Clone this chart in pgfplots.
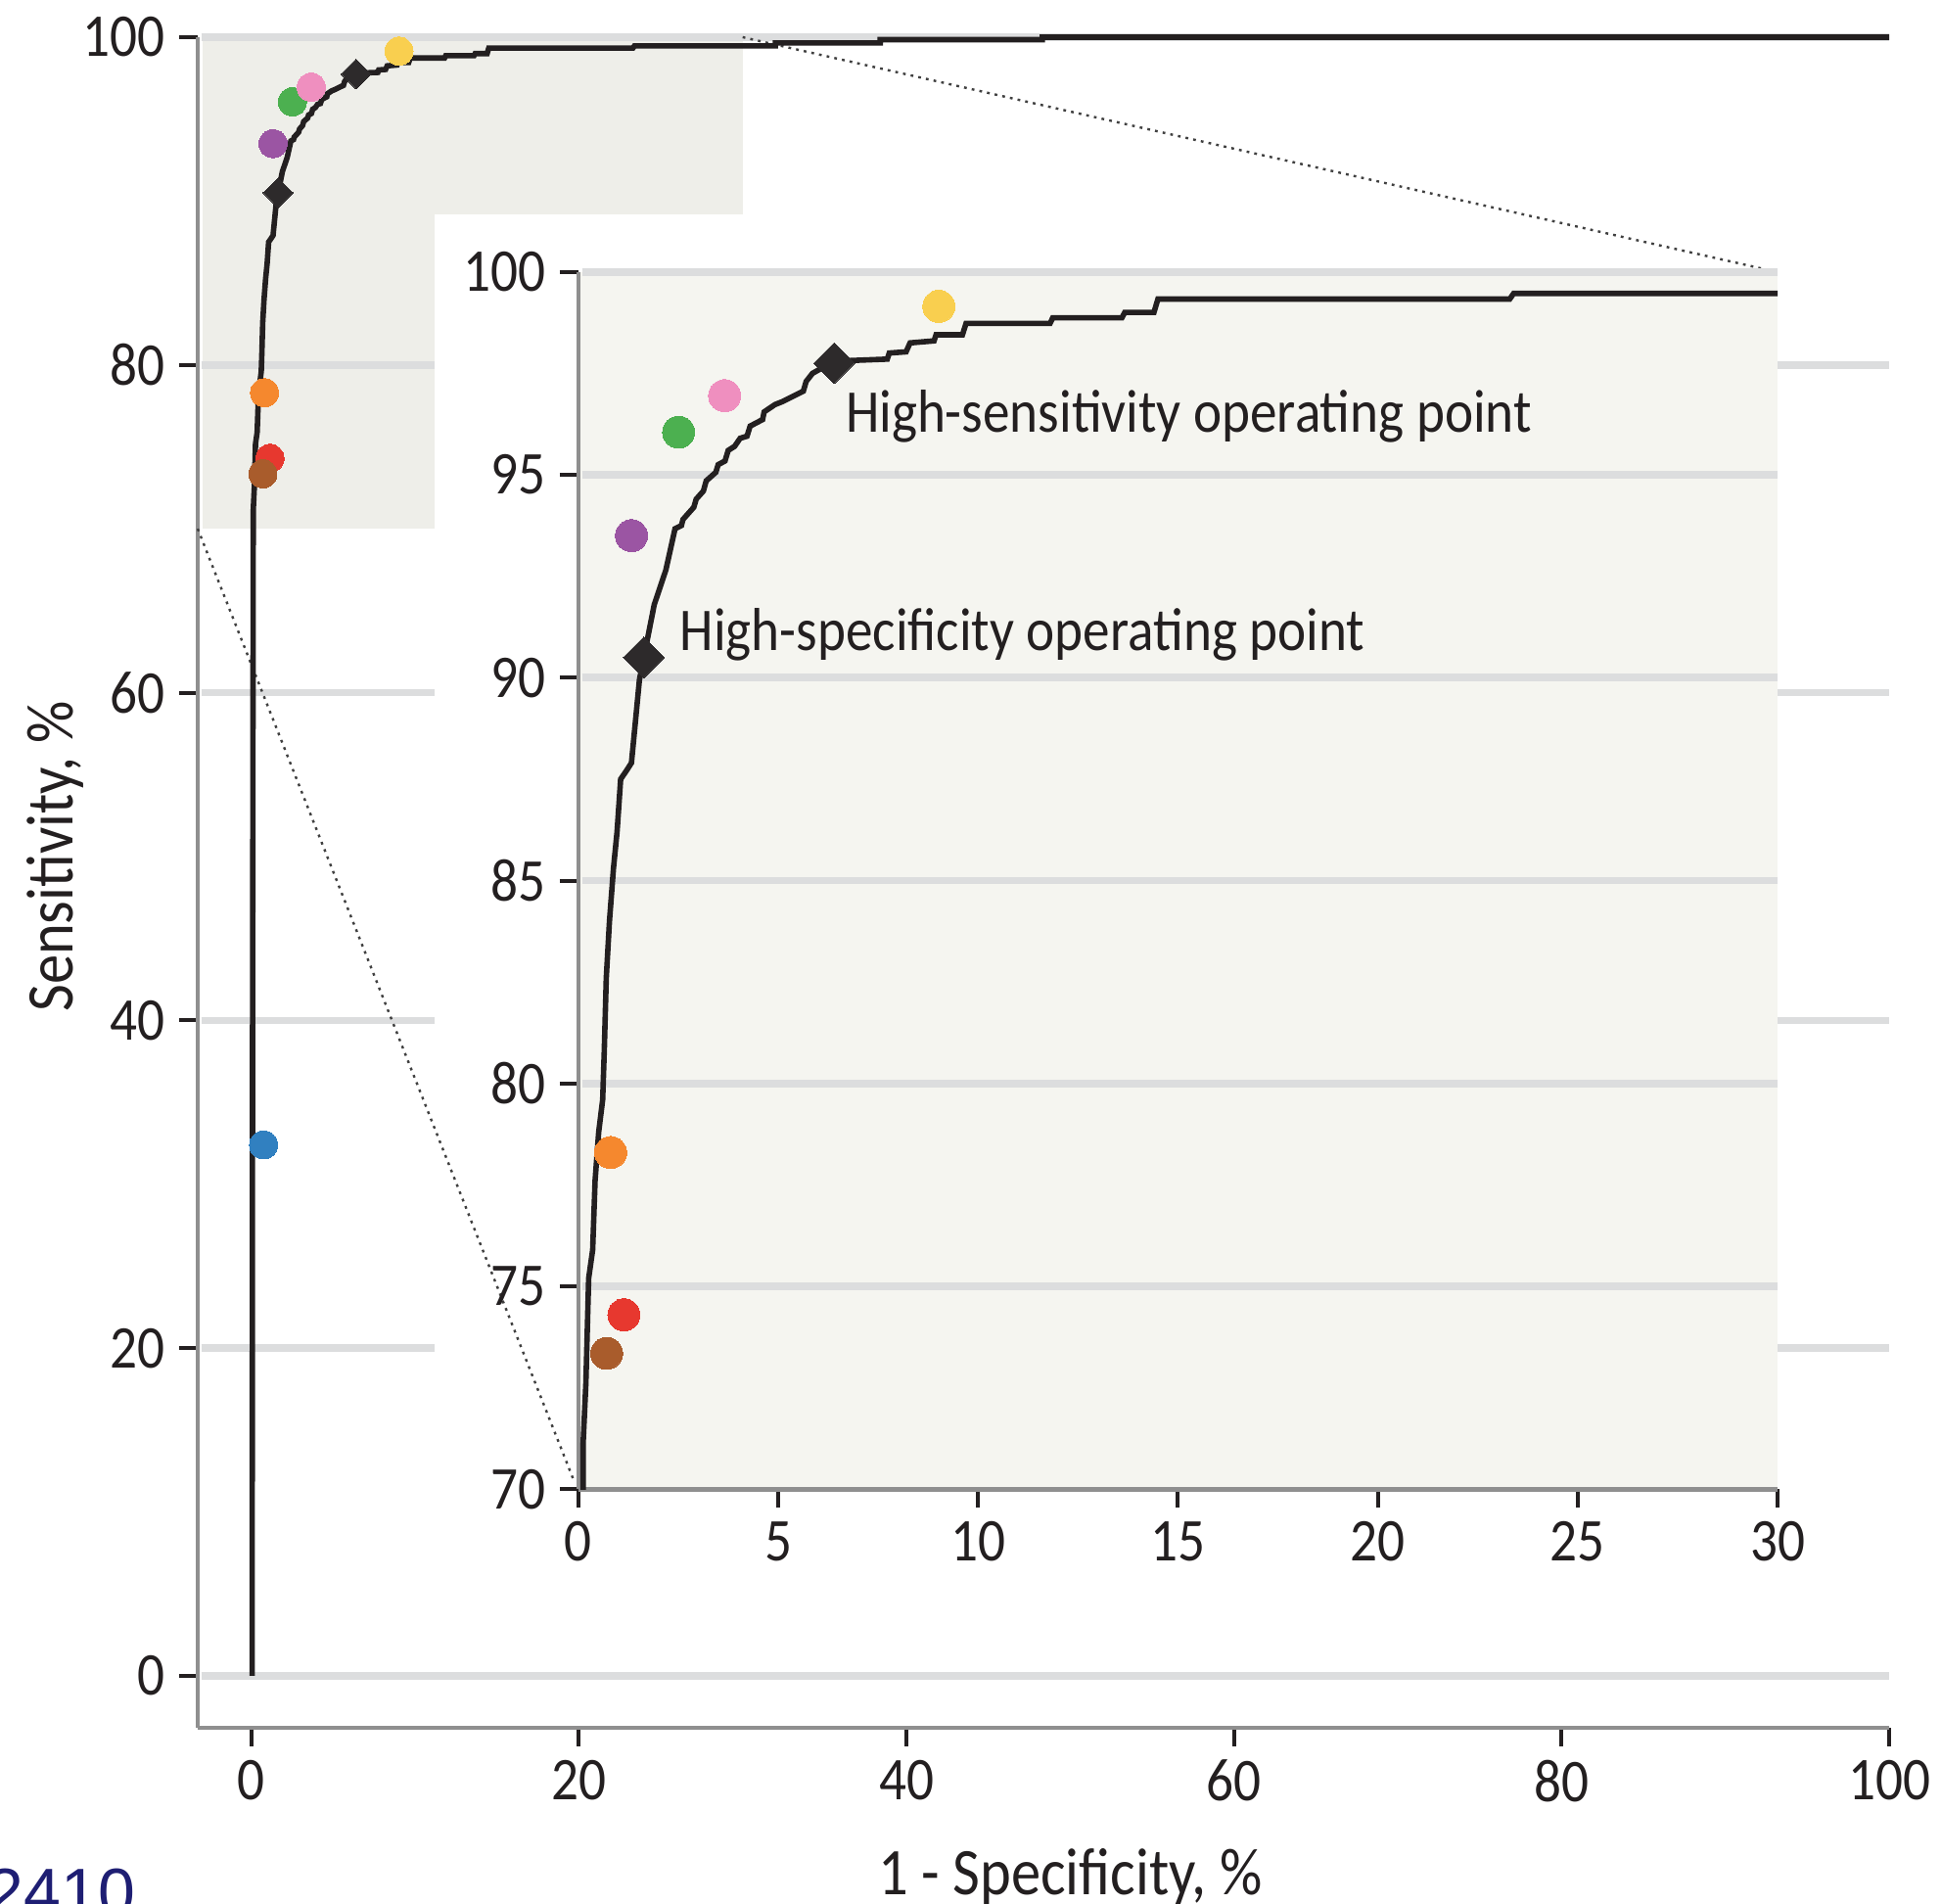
\documentclass[border=0pt]{standalone}
\usepackage{pgfplots}
\usepackage{pgfplotstable}
\pgfplotsset{compat=1.18}
\usepackage{fontspec}
\setmainfont{Carlito}[FakeStretch=0.89]
\newfontfamily\navyfont{Liberation Sans}
\definecolor{textcol}{RGB}{35,31,32}
\definecolor{gridgray}{RGB}{220,221,222}
\definecolor{axisgray}{RGB}{143,143,143}
\definecolor{mainshade}{RGB}{238,238,233}
\definecolor{insetbg}{RGB}{245,245,240}
\definecolor{navytxt}{RGB}{30,30,115}
\definecolor{cblue}{RGB}{49,128,192}
\definecolor{corange}{RGB}{245,136,46}
\definecolor{cred}{RGB}{231,56,47}
\definecolor{cbrown}{RGB}{169,92,44}
\definecolor{cpurple}{RGB}{155,85,163}
\definecolor{cgreen}{RGB}{76,176,80}
\definecolor{cpink}{RGB}{239,143,191}
\definecolor{cyellow}{RGB}{249,207,79}
\definecolor{dmdcol}{RGB}{45,42,43}
\newcommand\ticksize{\fontsize{15.5pt}{18pt}\selectfont}
\newcommand\labsize{\fontsize{17pt}{20pt}\selectfont}

\pgfplotstableread{
x y
0.05 0
0.08 40
0.12 70
0.12 71.1
0.19 72.6
0.26 75.2
0.36 75.9
0.42 77.6
0.51 78.8
0.61 79.6
0.65 80.8
0.70 82.6
0.78 84.0
0.88 85.3
0.97 86.2
1.06 87.5
1.20 87.7
1.33 87.9
1.53 89.95
1.64 90.5
1.90 91.8
2.19 92.65
2.42 93.67
2.58 93.75
2.62 93.9
2.89 94.2
2.95 94.4
3.13 94.6
3.20 94.85
3.44 95.06
3.50 95.25
3.67 95.34
3.75 95.6
3.91 95.7
4.05 95.9
4.22 95.95
4.30 96.2
4.61 96.36
4.65 96.55
4.92 96.73
5.10 96.8
5.63 97.06
5.70 97.3
5.86 97.5
6.40 97.8
7.73 97.85
7.78 98.0
8.20 98.03
8.30 98.25
8.90 98.3
8.95 98.45
9.61 98.45
9.70 98.73
11.80 98.73
11.87 98.87
13.60 98.87
13.67 99.0
14.40 99.0
14.50 99.33
23.30 99.33
23.40 99.47
32.0 99.47
32.0 99.65
38.4 99.65
38.4 99.85
48.3 99.85
48.3 100
100 100
}\roccurve

\pgfplotsset{
  dot/.style 2 args={only marks, mark=*, mark size=#1, color=#2, mark options={draw=#2, fill=#2, line width=0pt}},
  dmd/.style={only marks, mark=square*, mark size=#1, color=dmdcol, mark options={rotate=45, draw=dmdcol, fill=dmdcol, line width=0pt}},
}
\tikzset{
  gline/.style={draw=gridgray, line width=1.9pt},
  dotline/.style={draw=black!75, line width=0.6pt, dash pattern=on 0.7pt off 1.3pt},
}

\begin{document}
\begin{tikzpicture}
\useasboundingbox (-50.5pt,-45pt) rectangle (445.25pt,441.25pt);
\begin{axis}[
  at={(0pt,0pt)}, anchor=south west,
  scale only axis, width=432pt, height=431.75pt,
  xmin=-3.27, xmax=100, ymin=-3.17, ymax=100,
  axis lines=left, axis line style={-, draw=axisgray, line width=1.1pt},
  xtick={0,20,...,100}, ytick={0,20,...,100},
  tick align=outside, major tick length=4.75pt,
  tick style={draw=textcol, line width=1pt},
  tick label style={font=\ticksize, text=textcol},
  /pgf/number format/assume math mode=true,
  clip=false,
]
\fill[mainshade] (axis cs:-3.0,70) rectangle (axis cs:30,100);
\draw[gline] (axis cs:-3.05,0) -- (axis cs:100,0);
\draw[gline] (axis cs:-3.05,20) -- (axis cs:100,20);
\draw[gline] (axis cs:-3.05,40) -- (axis cs:100,40);
\draw[gline] (axis cs:-3.05,60) -- (axis cs:100,60);
\draw[gline] (axis cs:-3.05,80) -- (axis cs:100,80);
\draw[gline] (axis cs:-3.05,100) -- (axis cs:100,100);
\fill[white] (axis cs:11.2,4.3) rectangle (axis cs:93.2,89.2);
\draw[dotline] (axis cs:30,100) -- (axis cs:93.2,85.66);
\draw[dotline] (axis cs:-3.27,70) -- (axis cs:19.7,11.9);
\addplot[draw=textcol, line width=1.4pt] table[x=x,y=y] {\roccurve};
\addplot[dot={3.6pt}{cblue}] coordinates {(0.75,32.4)};
\addplot[dot={3.6pt}{corange}] coordinates {(0.81,78.3)};
\addplot[dot={3.6pt}{cred}] coordinates {(1.14,74.3)};
\addplot[dot={3.6pt}{cbrown}] coordinates {(0.71,73.35)};
\addplot[dot={3.6pt}{cpurple}] coordinates {(1.33,93.5)};
\addplot[dot={3.6pt}{cgreen}] coordinates {(2.51,96.05)};
\addplot[dot={3.6pt}{cpink}] coordinates {(3.66,96.95)};
\addplot[dot={3.6pt}{cyellow}] coordinates {(9.02,99.15)};
\addplot[dmd=2.7pt] coordinates {(1.64,90.5) (6.4,97.75)};
\node[rotate=90, anchor=base, font=\labsize, text=textcol] at ([xshift=-31.75pt]axis cs:-3.27,50) {Sensitivity, \%};
\node[anchor=base, font=\labsize, text=textcol] at ([yshift=-42.75pt]axis cs:50,-3.17) {1 - Specificity, \%};
\end{axis}
\begin{axis}[
  at={(97.2pt,60.9pt)}, anchor=south west,
  scale only axis, width=306.3pt, height=310.9pt,
  xmin=0, xmax=30, ymin=70, ymax=100,
  axis lines=left, axis line style={-, draw=axisgray, line width=1.1pt},
  xtick={0,5,...,30}, ytick={70,75,...,100},
  tick align=outside, major tick length=4.75pt,
  tick style={draw=textcol, line width=1pt},
  tick label style={font=\ticksize, text=textcol},
  /pgf/number format/assume math mode=true,
  axis background/.style={fill=insetbg},
  clip mode=individual,
]
\draw[gline] (axis cs:0.1,75) -- (axis cs:30,75);
\draw[gline] (axis cs:0.1,80) -- (axis cs:30,80);
\draw[gline] (axis cs:0.1,85) -- (axis cs:30,85);
\draw[gline] (axis cs:0.1,90) -- (axis cs:30,90);
\draw[gline] (axis cs:0.1,95) -- (axis cs:30,95);
\draw[gline] (axis cs:0.1,100) -- (axis cs:30,100);
\addplot[draw=textcol, line width=1.4pt] table[x=x,y=y] {\roccurve};
\addplot[dot={4.1pt}{corange}] coordinates {(0.81,78.3)};
\addplot[dot={4.1pt}{cred}] coordinates {(1.14,74.3)};
\addplot[dot={4.1pt}{cbrown}] coordinates {(0.71,73.35)};
\addplot[dot={4.1pt}{cpurple}] coordinates {(1.33,93.5)};
\addplot[dot={4.1pt}{cgreen}] coordinates {(2.51,96.05)};
\addplot[dot={4.1pt}{cpink}] coordinates {(3.66,96.95)};
\addplot[dot={4.1pt}{cyellow}] coordinates {(9.02,99.15)};
\addplot[dmd=3.7pt] coordinates {(1.64,90.5) (6.4,97.75)};
\node[anchor=base west, inner sep=0pt, font=\ticksize, text=textcol] at (axis cs:6.67,96.06) {High-sensitivity operating point};
\node[anchor=base west, inner sep=0pt, font=\ticksize, text=textcol] at (axis cs:2.53,90.66) {High-specificity operating point};
\end{axis}
\node[anchor=base east, inner sep=0pt, font=\navyfont\fontsize{17pt}{20pt}\selectfont, text=navytxt] at (-15.75pt,-48pt) {2410};
\end{tikzpicture}
\end{document}
